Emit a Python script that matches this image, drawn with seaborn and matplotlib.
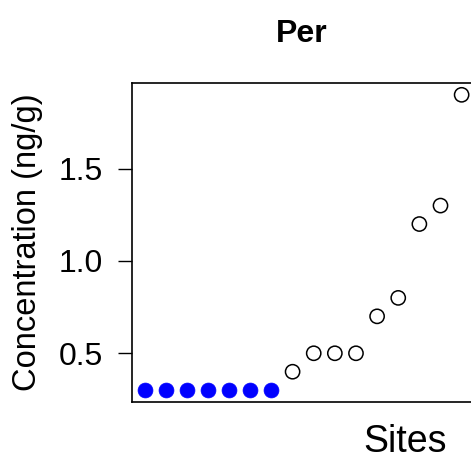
import numpy as np
import seaborn as sns
import matplotlib
matplotlib.use('Agg')
import matplotlib.pyplot as plt
import pandas as pd

sns.set_theme(style="white")
plt.rcParams['font.family'] = ['Liberation Sans', 'DejaVu Sans']
plt.rcParams['text.color'] = 'black'

# data (sites sorted by concentration)
sites = list(range(1, 17))
conc = [0.3, 0.3, 0.3, 0.3, 0.3, 0.3, 0.3, 0.4, 0.5, 0.5, 0.5, 0.7, 0.8, 1.2, 1.3, 1.9]
detected = [False] * 7 + [True] * 9
title = "Per"
y_ticks = [0.5, 1.0, 1.5]

df = pd.DataFrame({"site": sites, "conc": conc, "detected": detected})

fig = plt.figure(figsize=(4.71, 4.59), dpi=100)
ax = fig.add_axes([132 / 471, 57 / 459, 348 / 471, 319 / 459])

# below detection limit: filled blue
sns.scatterplot(data=df[~df.detected], x="site", y="conc", ax=ax,
                color="#0000ff", edgecolor="#0000ff", s=115, linewidth=0.5)
# detected: open circles
sns.scatterplot(data=df[df.detected], x="site", y="conc", ax=ax,
                facecolor="none", edgecolor="black", s=105, linewidth=1.1)

ax.set_xlim(0.4, 0.4 + 348 / 21.13)
ax.set_ylim(0.236, 1.964)
ax.set_yticks(y_ticks)
ax.set_yticklabels(["0.5", "1.0", "1.5"])
ax.set_xticks([])
ax.tick_params(axis="y", left=True, length=10, width=1, color="black",
               pad=11, labelsize=23, labelcolor="black")
for side in ["left", "top", "bottom"]:
    ax.spines[side].set_color("black")
    ax.spines[side].set_linewidth(1.2)
ax.spines["right"].set_visible(False)
ax.set_xlabel("")
ax.set_ylabel("")

fig.text(302 / 471, 1 - 42 / 459, title, ha="center", va="baseline",
         fontsize=23, fontweight="bold", color="black")
fig.text(405 / 471, 1 - 452 / 459, "Sites", ha="center", va="baseline",
         fontsize=27, color="black")
fig.text(28 / 471, 1 - 242.5 / 459, "Concentration (ng/g)", ha="center",
         va="center", rotation=90, fontsize=23.5, color="black")

fig.savefig("out.png", dpi=100)
